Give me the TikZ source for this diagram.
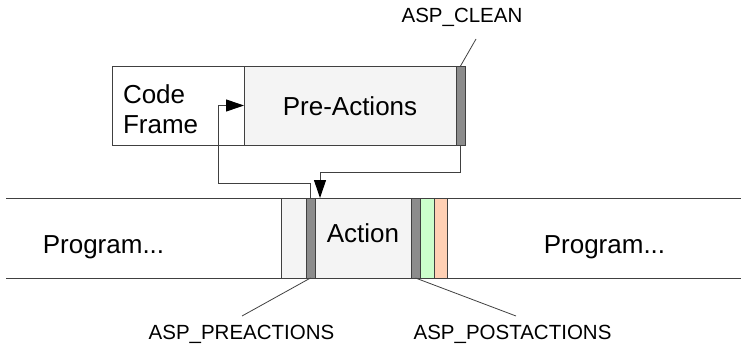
\documentclass[tikz,border=0pt]{standalone}
\usepackage{fontspec}
\setmainfont{Liberation Sans}
\usetikzlibrary{positioning, arrows.meta}

\definecolor{lightfill}{HTML}{F4F4F4}
\definecolor{darkfill}{HTML}{8C8C8C}
\definecolor{greenfill}{HTML}{CCFFCC}
\definecolor{peachfill}{HTML}{FFD0B4}
\definecolor{edge}{HTML}{404040}

\begin{document}
\begin{tikzpicture}[x=1pt, y=-1pt, node distance=0pt]
    % Styles
    \tikzstyle{block} = [rectangle, draw=edge, line width=1pt, fill=lightfill, outer sep=0pt, inner sep=0pt, minimum height=79pt, font=\fontsize{26}{30}\selectfont]
    \tikzstyle{strip} = [block, fill=darkfill, minimum width=9pt]
    \tikzstyle{tag} = [inner sep=0pt, anchor=base, font=\fontsize{20.5}{24}\selectfont]
    \tikzstyle{leader} = [draw=edge, line width=0.8pt]
    \tikzstyle{line} = [draw=edge, line width=1pt, -{Triangle[length=18pt, width=12pt, black]}]

    \useasboundingbox (0,0) rectangle (741,348);

    % Program band
    \draw [edge, line width=1pt] (6,198) -- (741,198);
    \draw [edge, line width=1pt] (6,278) -- (741,278);
    \node [inner sep=0pt, anchor=base, font=\fontsize{26}{30}\selectfont] (progleft) at (103.5,253) {Program...};
    \node [inner sep=0pt, anchor=base, font=\fontsize{26}{30}\selectfont] (progright) at (604.5,253) {Program...};

    % Code frame and pre-actions
    \node [block, fill=white, anchor=north west, minimum width=132pt, inner xsep=11pt, text width=110pt, align=left, text height=25pt, text depth=30pt] (frame) at (112,66) {Code\\Frame};
    \node [block, minimum width=212pt, text height=19pt, text depth=0pt, right=of frame] (preact) {Pre-Actions};
    \node [strip, right=of preact] (clean) {};

    % Action slot in the band
    \node [block, anchor=north west, minimum width=25pt, minimum height=80pt] (pad) at (281,198) {};
    \node [strip, minimum height=80pt, right=of pad] (pre) {};
    \node [block, minimum width=96pt, minimum height=80pt, text height=20pt, text depth=12pt, right=of pre] (action) {Action};
    \node [strip, minimum height=80pt, right=of action] (post) {};
    \node [block, fill=greenfill, minimum width=14pt, minimum height=80pt, right=of post] (green) {};
    \node [block, fill=peachfill, minimum width=13pt, minimum height=80pt, right=of green] (peach) {};

    % Labels
    \node [tag] (cleantag) at (462,22) {ASP\_CLEAN};
    \node [tag] (pretag) at (241.5,339) {ASP\_PREACTIONS};
    \node [tag] (posttag) at (512.5,339) {ASP\_POSTACTIONS};
    \coordinate (cleanend) at (476,39);
    \coordinate (preend) at (242,316);
    \coordinate (postend) at (516,316);

    % Connections
    \path [line] (clean.south) |- ++(0,27) -| ([xshift=5pt]action.north west);
    \path [line] (pre.north) -- ++(0,-15) -| ([xshift=-26pt]preact.west) -- (preact.west);
    \path [leader] (clean.north) -- (cleanend);
    \path [leader] (pre.south) -- (preend);
    \path [leader] (post.south) -- (postend);

\end{tikzpicture}
\end{document}
